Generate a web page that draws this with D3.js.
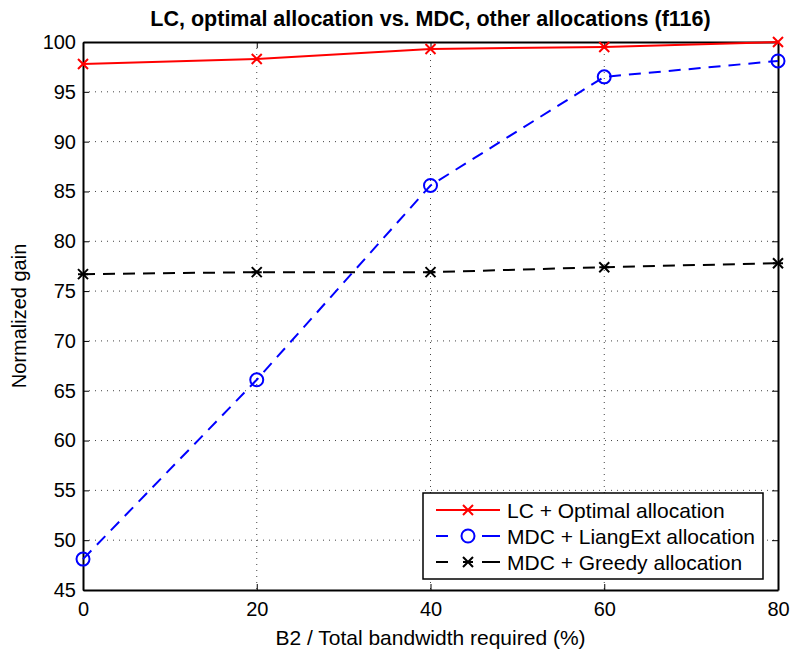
<!DOCTYPE html>
<html>
<head>
<meta charset="utf-8">
<script src="https://cdn.jsdelivr.net/npm/d3@7"></script>
<style>
  body { margin: 0; background: #fff; }
  text { font-family: "Liberation Sans", Arial, sans-serif; }
</style>
</head>
<body>
<div id="chart"></div>
<script>
// data
var bandwidth = [0, 20, 40, 60, 80];
var lcOptimal = [97.8, 98.3, 99.3, 99.5, 100];
var mdcLiang = [48.1, 66.1, 85.6, 96.5, 98.1];
var mdcGreedy = [76.7, 76.9, 76.9, 77.4, 77.8];
var xTicks = [0, 20, 40, 60, 80];
var yTicks = [45, 50, 55, 60, 65, 70, 75, 80, 85, 90, 95, 100];
var legendLabels = ["LC + Optimal allocation", "MDC + LiangExt allocation", "MDC + Greedy allocation"];

var margin = { top: 42, right: 16, bottom: 61, left: 83 },
    width = 794 - margin.left - margin.right,
    height = 651 - margin.top - margin.bottom;

var svg = d3.select("#chart")
    .append("svg")
    .attr("width", 794)
    .attr("height", 651)
    .append("g")
    .attr("transform", "translate(" + margin.left + "," + margin.top + ")");

var x = d3.scaleLinear().domain([0, 80]).range([0, width]);
var y = d3.scaleLinear().domain([45, 100]).range([height, 0]);

// grid
svg.append("g")
    .selectAll("line")
    .data(xTicks.slice(1, -1))
    .enter().append("line")
    .attr("x1", d => x(d)).attr("x2", d => x(d))
    .attr("y1", 0).attr("y2", height)
    .attr("stroke", "#444").attr("stroke-width", 1)
    .attr("stroke-dasharray", "1,5");

svg.append("g")
    .selectAll("line")
    .data(yTicks.slice(1, -1))
    .enter().append("line")
    .attr("y1", d => y(d)).attr("y2", d => y(d))
    .attr("x1", 0).attr("x2", width)
    .attr("stroke", "#444").attr("stroke-width", 1)
    .attr("stroke-dasharray", "1,5");

// axes, ticks inward on all sides
var xAxis = svg.append("g")
    .attr("transform", "translate(0," + height + ")")
    .call(d3.axisBottom(x).tickValues(xTicks).tickSizeInner(-6).tickSizeOuter(0).tickPadding(12));
var yAxis = svg.append("g")
    .call(d3.axisLeft(y).tickValues(yTicks).tickSizeInner(-6).tickSizeOuter(0).tickPadding(7));
svg.append("g")
    .call(d3.axisTop(x).tickValues(xTicks).tickSizeInner(-6).tickSizeOuter(0).tickFormat(""));
svg.append("g")
    .attr("transform", "translate(" + width + ",0)")
    .call(d3.axisRight(y).tickValues(yTicks).tickSizeInner(-6).tickSizeOuter(0).tickFormat(""));

svg.selectAll(".domain").attr("stroke", "#000").attr("stroke-width", 2);
svg.selectAll(".tick line").attr("stroke", "#000").attr("stroke-width", 1);
xAxis.selectAll("text").attr("font-size", "20px").attr("fill", "#000");
yAxis.selectAll("text").attr("font-size", "20px").attr("fill", "#000");

// series
var series = [
    { values: lcOptimal, color: "#ff0000", dash: null, marker: "x" },
    { values: mdcLiang, color: "#0000ff", dash: "12,8", marker: "o" },
    { values: mdcGreedy, color: "#000000", dash: "12,8", marker: "*" }
];

var line = d3.line()
    .x((d, i) => x(bandwidth[i]))
    .y(d => y(d));

function drawMarker(g, type, cx, cy, color) {
    if (type === "o") {
        g.append("circle").attr("cx", cx).attr("cy", cy).attr("r", 6.5)
            .attr("fill", "none").attr("stroke", color).attr("stroke-width", 2);
    } else {
        var s = 5;
        var p = "M" + (cx - s) + "," + (cy - s) + "L" + (cx + s) + "," + (cy + s) +
            "M" + (cx - s) + "," + (cy + s) + "L" + (cx + s) + "," + (cy - s);
        if (type === "*") p += "M" + (cx - s) + "," + cy + "L" + (cx + s) + "," + cy;
        g.append("path").attr("d", p).attr("fill", "none")
            .attr("stroke", color).attr("stroke-width", 2);
    }
}

series.forEach(function (s) {
    svg.append("path")
        .datum(s.values)
        .attr("d", line)
        .attr("fill", "none")
        .attr("stroke", s.color)
        .attr("stroke-width", 2)
        .attr("stroke-dasharray", s.dash);
    var mg = svg.append("g");
    s.values.forEach(function (v, i) {
        drawMarker(mg, s.marker, x(bandwidth[i]), y(v), s.color);
    });
});

// legend
var lg = svg.append("g").attr("transform", "translate(" + (423 - margin.left) + "," + (493 - margin.top) + ")");
lg.append("rect").attr("width", 340).attr("height", 86)
    .attr("fill", "#fff").attr("stroke", "#000").attr("stroke-width", 1.5);
series.forEach(function (s, i) {
    var ry = 17 + i * 26;
    lg.append("line").attr("x1", 13).attr("x2", 77).attr("y1", ry).attr("y2", ry)
        .attr("stroke", s.color).attr("stroke-width", 2)
        .attr("stroke-dasharray", s.dash ? "12,34" : null);
    if (s.dash) {
        lg.append("line").attr("x1", 65).attr("x2", 77).attr("y1", ry).attr("y2", ry)
            .attr("stroke", s.color).attr("stroke-width", 2);
    }
    drawMarker(lg, s.marker, 45, ry, s.color);
    lg.append("text").attr("x", 84).attr("y", ry + 7.5)
        .attr("font-size", "21px").attr("fill", "#000")
        .text(legendLabels[i]);
});

// labels
svg.append("text")
    .attr("x", width / 2).attr("y", -16)
    .attr("text-anchor", "middle")
    .attr("font-size", "21.5px").attr("font-weight", "bold")
    .text("LC, optimal allocation vs. MDC, other allocations (f116)");

svg.append("text")
    .attr("x", width / 2).attr("y", height + 55)
    .attr("text-anchor", "middle")
    .attr("font-size", "21px")
    .text("B2 / Total bandwidth required (%)");

svg.append("text")
    .attr("transform", "translate(" + (-57) + "," + (height / 2) + ") rotate(-90)")
    .attr("text-anchor", "middle")
    .attr("font-size", "20px")
    .text("Normalized gain");
</script>
</body>
</html>
